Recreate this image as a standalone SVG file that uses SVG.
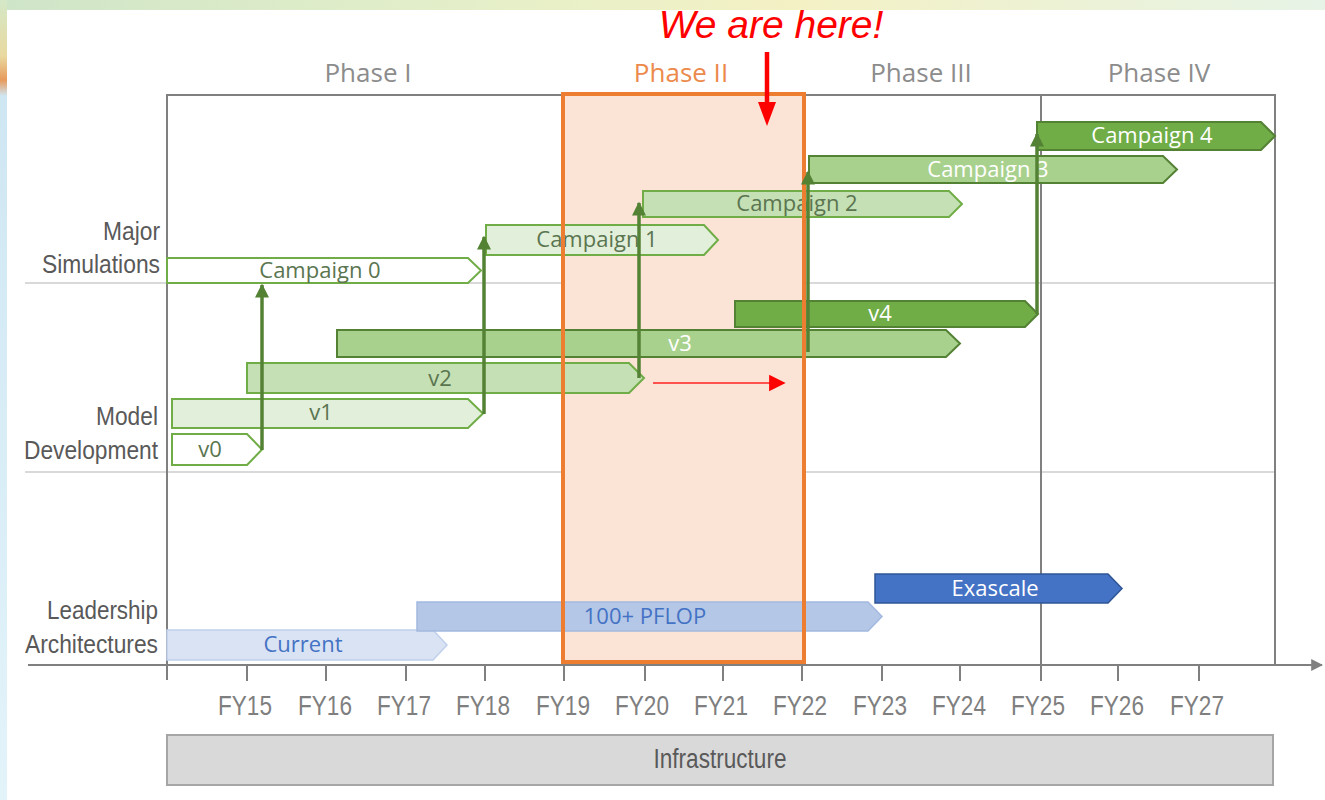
<svg xmlns="http://www.w3.org/2000/svg" width="1325" height="800" viewBox="0 0 1325 800">
<defs>
<linearGradient id="topbg" x1="0" y1="0" x2="1" y2="0">
<stop offset="0" stop-color="#cfe5c8"/><stop offset="0.35" stop-color="#e4efc9"/><stop offset="0.6" stop-color="#f4f1c4"/><stop offset="1" stop-color="#e6f3e6"/>
</linearGradient>
<linearGradient id="leftbg" x1="0" y1="0" x2="0" y2="1">
<stop offset="0" stop-color="#d4e8c8"/><stop offset="0.07" stop-color="#e9d9a0"/><stop offset="0.1" stop-color="#e89a5c"/><stop offset="0.12" stop-color="#cfe7f3"/><stop offset="1" stop-color="#e3f3fa"/>
</linearGradient>
<marker id="ga" viewBox="0 0 10 10" refX="9" refY="5" markerWidth="4" markerHeight="4" orient="auto" markerUnits="strokeWidth"><path d="M0,0 L10,5 L0,10 Z" fill="#548235"/></marker>
<marker id="rs" viewBox="0 0 10 10" refX="9" refY="5" markerWidth="11" markerHeight="12" orient="auto" markerUnits="strokeWidth"><path d="M0,0 L10,5 L0,10 Z" fill="#ff0000"/></marker>
<marker id="axa" viewBox="0 0 10 10" refX="9" refY="5" markerWidth="6" markerHeight="6" orient="auto" markerUnits="strokeWidth"><path d="M0,0 L10,5 L0,10 Z" fill="#808080"/></marker>
</defs>
<style>
.frame{stroke:#808080;stroke-width:2;fill:none}
.grid{stroke:#d9d9d9;stroke-width:2}
.tick{stroke:#808080;stroke-width:2}
.phase{font-family:"Open Sans","Noto Sans",sans-serif;font-size:26px;font-weight:500;fill:#8c8c8c;text-anchor:middle}
.row{font-family:"Liberation Sans",Arial,sans-serif;font-size:26px;fill:#595959;text-anchor:end}
.fy{font-family:"Liberation Sans",Arial,sans-serif;font-size:28px;fill:#7f7f7f;text-anchor:middle}
.bl{font-family:"Open Sans","Noto Sans",sans-serif;font-size:22px;font-weight:500;text-anchor:middle}
.dk{fill:#5a7550}
.wt{fill:#ffffff}
.bt{fill:#4472c4}
.g0{fill:#ffffff;stroke:#70ad47;stroke-width:2}
.g1{fill:#e2efda;stroke:#70ad47;stroke-width:2}
.g2{fill:#c5e0b4;stroke:#70ad47;stroke-width:2}
.g3{fill:#a9d18e;stroke:#548235;stroke-width:2}
.g4{fill:#70ad47;stroke:#548235;stroke-width:2}
.b1{fill:#dae3f3;stroke:#c0d0ec;stroke-width:1.5}
.b2{fill:#b4c7e7;stroke:#a3b9e0;stroke-width:1.5}
.b3{fill:#4472c4;stroke:#2f5597;stroke-width:1.5}
.link{stroke:#548235;stroke-width:3.5;fill:none;marker-end:url(#ga)}
</style>
<rect x="0" y="0" width="1325" height="800" fill="#ffffff"/>
<rect x="0" y="0" width="1325" height="10" fill="url(#topbg)"/>
<rect x="0" y="0" width="7" height="800" fill="url(#leftbg)"/>

<g id="grid">
<line class="grid" x1="25" y1="283" x2="1275" y2="283"/>
<line class="grid" x1="25" y1="472" x2="1275" y2="472"/>
</g>
<rect id="phase2-fill" x="563" y="94" width="241" height="568" fill="#fbe4d6"/>
<g id="frame">
<path class="frame" d="M167,680 V95 H1275 V665"/>
<line class="frame" x1="1041" y1="95" x2="1041" y2="665"/>
<line class="frame" x1="28" y1="665" x2="1322" y2="665" marker-end="url(#axa)"/>
<g class="tick">
<line x1="247" y1="665" x2="247" y2="681"/><line x1="326" y1="665" x2="326" y2="681"/><line x1="406" y1="665" x2="406" y2="681"/><line x1="485" y1="665" x2="485" y2="681"/><line x1="564" y1="665" x2="564" y2="681"/><line x1="645" y1="665" x2="645" y2="681"/><line x1="723" y1="665" x2="723" y2="681"/><line x1="802" y1="665" x2="802" y2="681"/><line x1="882" y1="665" x2="882" y2="681"/><line x1="960" y1="665" x2="960" y2="681"/><line x1="1041" y1="665" x2="1041" y2="681"/><line x1="1118" y1="665" x2="1118" y2="681"/><line x1="1199" y1="665" x2="1199" y2="681"/>
</g>
</g>
<g id="phase-labels">
<text class="phase" x="368" y="82">Phase I</text>
<text class="phase" x="681" y="82" style="fill:#ec8a4c">Phase II</text>
<text class="phase" x="921" y="82">Phase III</text>
<text class="phase" x="1159" y="82">Phase IV</text>
</g>
<g id="row-labels">
<text class="row" x="160" y="240" textLength="57" lengthAdjust="spacingAndGlyphs">Major</text>
<text class="row" x="160" y="273" textLength="118" lengthAdjust="spacingAndGlyphs">Simulations</text>
<text class="row" x="158" y="425" textLength="62" lengthAdjust="spacingAndGlyphs">Model</text>
<text class="row" x="158" y="459" textLength="134" lengthAdjust="spacingAndGlyphs">Development</text>
<text class="row" x="158" y="619" textLength="111" lengthAdjust="spacingAndGlyphs">Leadership</text>
<text class="row" x="158" y="653" textLength="133" lengthAdjust="spacingAndGlyphs">Architectures</text>
</g>
<g id="fy-labels">
<text class="fy" x="245" y="715" textLength="54" lengthAdjust="spacingAndGlyphs">FY15</text>
<text class="fy" x="325" y="715" textLength="54" lengthAdjust="spacingAndGlyphs">FY16</text>
<text class="fy" x="404" y="715" textLength="54" lengthAdjust="spacingAndGlyphs">FY17</text>
<text class="fy" x="483" y="715" textLength="54" lengthAdjust="spacingAndGlyphs">FY18</text>
<text class="fy" x="563" y="715" textLength="54" lengthAdjust="spacingAndGlyphs">FY19</text>
<text class="fy" x="642" y="715" textLength="54" lengthAdjust="spacingAndGlyphs">FY20</text>
<text class="fy" x="721" y="715" textLength="54" lengthAdjust="spacingAndGlyphs">FY21</text>
<text class="fy" x="800" y="715" textLength="54" lengthAdjust="spacingAndGlyphs">FY22</text>
<text class="fy" x="880" y="715" textLength="54" lengthAdjust="spacingAndGlyphs">FY23</text>
<text class="fy" x="959" y="715" textLength="54" lengthAdjust="spacingAndGlyphs">FY24</text>
<text class="fy" x="1038" y="715" textLength="54" lengthAdjust="spacingAndGlyphs">FY25</text>
<text class="fy" x="1117" y="715" textLength="54" lengthAdjust="spacingAndGlyphs">FY26</text>
<text class="fy" x="1197" y="715" textLength="54" lengthAdjust="spacingAndGlyphs">FY27</text>
</g>

<g id="campaign0"><path class="g0" d="M167,258 H468 L481,270.5 L468,283 H167 Z"/><text class="bl dk" x="320" y="278">Campaign 0</text></g>
<g id="campaign1"><path class="g1" d="M486,225 H704 L718,240 L704,255 H486 Z"/><text class="bl dk" x="597" y="247">Campaign 1</text></g>
<g id="campaign2"><path class="g2" d="M643,191 H949 L962,204 L949,217 H643 Z"/><text class="bl dk" x="797" y="211">Campaign 2</text></g>
<g id="campaign3"><path class="g3" d="M809,156 H1163 L1177,169.5 L1163,183 H809 Z"/><text class="bl wt" x="988" y="177">Campaign 3</text></g>
<g id="campaign4"><path class="g4" d="M1037,122 H1261 L1275,136 L1261,150 H1037 Z"/><text class="bl wt" x="1152" y="143">Campaign 4</text></g>

<g id="v0"><path class="g0" d="M172,434 H247 L262,449.5 L247,465 H172 Z"/><text class="bl dk" x="210" y="457">v0</text></g>
<g id="v1"><path class="g1" d="M172,399 H468 L483,413.5 L468,428 H172 Z"/><text class="bl dk" x="321" y="420">v1</text></g>
<g id="v2"><path class="g2" d="M247,363 H629 L644,378 L629,393 H247 Z"/><text class="bl dk" x="440" y="386">v2</text></g>
<g id="v3"><path class="g3" d="M337,330 H946 L960,343.5 L946,357 H337 Z"/><text class="bl wt" x="680" y="351">v3</text></g>
<g id="v4"><path class="g4" d="M735,301 H1025 L1038,314 L1025,327 H735 Z"/><text class="bl wt" x="880" y="321">v4</text></g>

<g id="current"><path class="b1" d="M167,630 H433 L447,645 L433,660 H167 Z"/><text class="bl bt" x="303" y="652">Current</text></g>
<g id="pflop"><path class="b2" d="M417,602 H868 L882,616.5 L868,631 H417 Z"/><text class="bl bt" x="645" y="624">100+ PFLOP</text></g>
<g id="exascale"><path class="b3" d="M875,574 H1108 L1122,588.5 L1108,603 H875 Z"/><text class="bl wt" x="995" y="596">Exascale</text></g>

<rect id="phase2-border" x="563" y="94" width="241" height="568" fill="none" stroke="#ed7d31" stroke-width="4"/>

<g id="connectors">
<line class="link" x1="262" y1="450" x2="262" y2="285"/>
<line class="link" x1="484" y1="414" x2="484" y2="237"/>
<line class="link" x1="639" y1="378" x2="639" y2="203"/>
<line class="link" x1="808" y1="352" x2="808" y2="172"/>
<line class="link" x1="1037" y1="314" x2="1037" y2="134"/>
</g>

<g id="red-note">
<text x="771" y="38" font-family="Liberation Sans, Arial, sans-serif" font-style="italic" font-size="39" fill="#ff0000" text-anchor="middle">We are here!</text>
<line x1="767" y1="52" x2="767" y2="104" stroke="#ff0000" stroke-width="4.5"/>
<polygon points="758,102 776,102 767,126" fill="#ff0000"/>
<line x1="653" y1="383" x2="784" y2="383" stroke="#ff2020" stroke-width="1.5" marker-end="url(#rs)"/>
</g>

<g id="infrastructure">
<rect x="167" y="735" width="1106" height="50" fill="#d9d9d9" stroke="#a6a6a6" stroke-width="2"/>
<text x="720" y="768" font-family="Liberation Sans, Arial, sans-serif" font-size="27" fill="#595959" text-anchor="middle" textLength="133" lengthAdjust="spacingAndGlyphs">Infrastructure</text>
</g>
</svg>
